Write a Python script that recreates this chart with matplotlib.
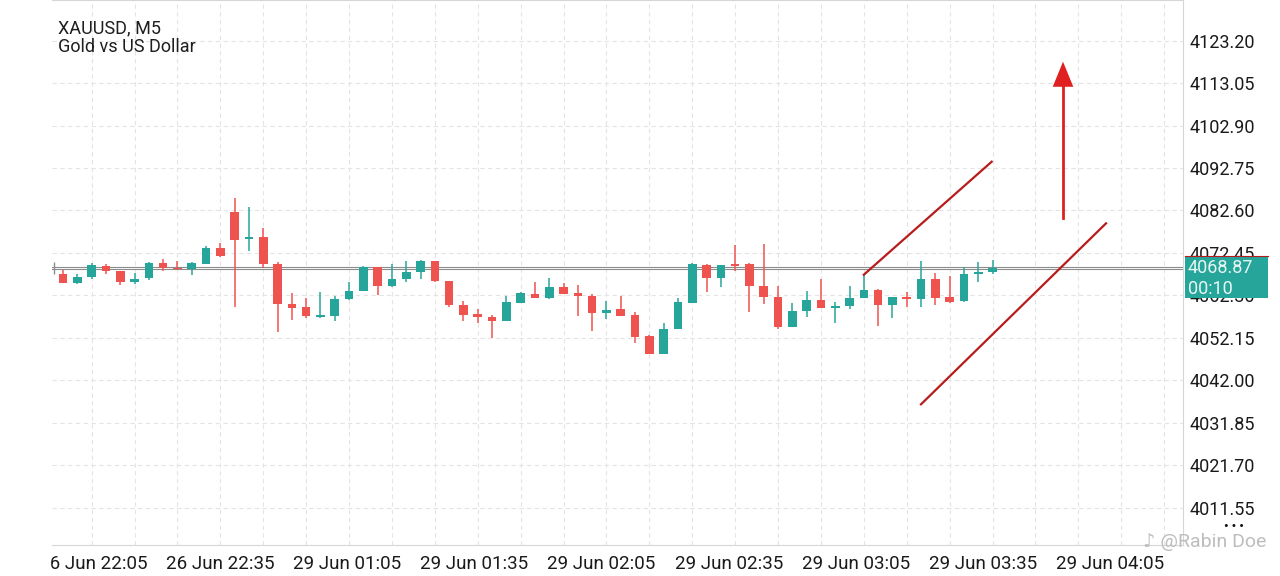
import numpy as np
import matplotlib
matplotlib.use('Agg')
import matplotlib.pyplot as plt
from matplotlib.patches import Rectangle

# XAUUSD M5 candles, oldest first
opens = [4067.34, 4065.26, 4066.69, 4069.40, 4068.06, 4065.57, 4066.38, 4070.11, 4068.92, 4068.53,
         4069.87, 4073.56, 4082.24, 4075.71, 4076.19, 4069.80, 4060.24, 4059.45, 4057.13, 4057.37,
         4061.36, 4063.42, 4069.01, 4064.54, 4066.14, 4067.82, 4070.52, 4065.74, 4060.00, 4057.77,
         4057.13, 4056.17, 4060.55, 4062.70, 4061.60, 4064.37, 4062.80, 4062.15, 4058.16, 4058.97,
         4057.53, 4052.58, 4048.28, 4054.26, 4060.55, 4069.64, 4066.45, 4069.73, 4069.73, 4064.61,
         4061.98, 4054.74, 4058.49, 4061.19, 4059.35, 4059.76, 4061.67, 4063.66, 4059.93, 4061.91,
         4061.43, 4066.14, 4061.98, 4060.88, 4067.48, 4067.82]
highs = [4068.37, 4067.34, 4070.11, 4069.73, 4068.20, 4067.58, 4070.35, 4071.00, 4070.52, 4070.21,
         4074.18, 4074.75, 4085.66, 4083.36, 4078.48, 4070.35, 4062.80, 4061.60, 4063.11, 4062.22,
         4065.57, 4069.32, 4069.16, 4069.73, 4070.52, 4070.76, 4070.59, 4065.81, 4061.03, 4059.11,
         4057.61, 4062.15, 4063.11, 4065.57, 4066.38, 4065.19, 4064.78, 4062.56, 4060.95, 4062.22,
         4058.25, 4052.75, 4055.62, 4061.74, 4069.97, 4069.73, 4069.56, 4074.35, 4070.11, 4074.58,
         4064.54, 4060.40, 4063.35, 4066.14, 4060.79, 4064.54, 4067.24, 4063.75, 4061.98, 4063.18,
         4070.59, 4067.58, 4067.01, 4069.16, 4070.28, 4070.76]
lows = [4065.19, 4064.95, 4066.22, 4067.34, 4064.78, 4064.95, 4065.98, 4068.20, 4068.37, 4067.17,
        4069.80, 4071.55, 4059.52, 4072.91, 4068.92, 4053.61, 4056.41, 4056.96, 4056.82, 4056.17,
        4061.19, 4063.35, 4062.39, 4064.23, 4065.57, 4066.29, 4065.57, 4059.45, 4056.24, 4055.62,
        4052.18, 4056.10, 4060.48, 4061.60, 4061.43, 4062.56, 4057.44, 4053.85, 4056.58, 4057.37,
        4050.84, 4048.21, 4048.21, 4054.19, 4060.48, 4063.18, 4064.23, 4068.20, 4058.40, 4060.24,
        4054.19, 4054.74, 4057.06, 4059.28, 4055.77, 4058.97, 4061.60, 4054.98, 4056.82, 4059.45,
        4059.45, 4059.93, 4060.55, 4060.72, 4065.57, 4067.34]
closes = [4065.33, 4066.62, 4069.56, 4068.06, 4065.50, 4066.29, 4070.11, 4068.85, 4068.53, 4069.97,
          4073.70, 4071.64, 4075.61, 4076.19, 4069.73, 4060.24, 4059.35, 4057.37, 4057.37, 4061.36,
          4063.42, 4069.16, 4064.54, 4066.14, 4067.89, 4070.52, 4065.74, 4059.93, 4057.61, 4057.06,
          4056.17, 4060.64, 4062.94, 4061.67, 4064.37, 4062.63, 4062.08, 4058.01, 4058.87, 4057.44,
          4052.42, 4048.28, 4054.33, 4060.64, 4069.73, 4066.45, 4069.49, 4069.40, 4064.54, 4061.84,
          4054.74, 4058.56, 4061.12, 4059.35, 4059.76, 4061.74, 4063.59, 4059.93, 4061.91, 4061.43,
          4066.14, 4061.74, 4060.79, 4067.48, 4067.89, 4068.87]

price_ticks = [4011.55, 4021.70, 4031.85, 4042.00, 4052.15, 4062.30,
               4072.45, 4082.60, 4092.75, 4102.90, 4113.05, 4123.20]
time_labels = ['26 Jun 22:05', '26 Jun 22:35', '29 Jun 01:05', '29 Jun 01:35', '29 Jun 02:05',
               '29 Jun 02:35', '29 Jun 03:05', '29 Jun 03:35', '29 Jun 04:05']
last_price = 4068.87
countdown = '00:10'

# hand drawn objects: (candle, price)
upper_line = [(56.0, 4067.24), (64.94, 4094.26)]
lower_line = [(60.0, 4036.25), (72.94, 4079.53)]
arrow_x = 69.93
arrow_from = 4080.73
arrow_to = 4118.18

W, H = 1280, 576
UP = '#26a69a'
DOWN = '#ef5350'
GRID = '#e4e4e4'

plt.rcParams['font.family'] = ['Roboto', 'DejaVu Sans']

fig = plt.figure(figsize=(W / 100, H / 100), dpi=100)
ax = fig.add_axes([52 / W, 31 / H, 1131 / W, 545 / H])
ax.set_xlim(-0.77, 78.32)
ax.set_ylim(4002.61, 4132.93)

o = np.array(opens)
h = np.array(highs)
l = np.array(lows)
c = np.array(closes)
x = np.arange(len(o))
col = np.where(c >= o, UP, DOWN)

ax.vlines(x, l, h, colors=col, lw=1.1, zorder=3)
ax.bar(x, np.maximum(np.abs(c - o), 0.4), bottom=np.minimum(o, c), width=0.6,
       color=col, lw=0, zorder=4)

# current price line (double gray)
for d in (-0.25, 0.25):
    ax.axhline(last_price + d, color='#8c8c8c', lw=0.8, zorder=2)
ax.vlines(-0.65, last_price - 1.4, last_price + 1.4, color='#8c8c8c', lw=1)

# trend lines and arrow
ax.plot(*zip(*upper_line), color='#b71c1c', lw=1.6, zorder=5)
ax.plot(*zip(*lower_line), color='#b71c1c', lw=1.6, zorder=5)
ax.plot([arrow_x, arrow_x], [arrow_from, arrow_to - 5.5], color='#e02020', lw=2, zorder=5)
ax.fill([arrow_x - 0.72, arrow_x + 0.72, arrow_x], [arrow_to - 6, arrow_to - 6, arrow_to],
        color='#e02020', lw=0, zorder=5)

# axes, ticks, grid
ax.yaxis.tick_right()
ax.set_yticks(price_ticks)
ax.set_yticklabels([f'{p:.2f}' for p in price_ticks])
ax.tick_params(axis='y', length=0, pad=5, labelsize=13, labelcolor='#1a1a1a')
ax.set_xticks(np.arange(2, 79, 3), minor=True)
ax.set_xticks(2.1 + np.arange(len(time_labels)) * 8.89)
ax.set_xticklabels(time_labels)
ax.tick_params(axis='x', which='both', length=0, pad=7, labelsize=13.5, labelcolor='#1a1a1a')
ax.grid(True, which='minor', axis='x', ls=(0, (4, 3)), color=GRID, lw=0.8, zorder=0)
ax.grid(False, which='major', axis='x')
ax.grid(True, which='major', axis='y', ls=(0, (4, 3)), color=GRID, lw=0.8, zorder=0)
ax.set_axisbelow(True)
ax.spines['left'].set_visible(False)
for s in ('top', 'right', 'bottom'):
    ax.spines[s].set_color('#d6d6d6')
    ax.spines[s].set_linewidth(0.8)

# hide what runs off the left edge
fig.patches.append(Rectangle((0, 0), 50 / W, 31 / H, transform=fig.transFigure,
                             color='white', zorder=10))

# price box on the axis
fig.canvas.draw()
py = ax.transData.transform((0, last_price))[1]
box_top = py + 12
box_bot = py - 30
fig.patches.append(Rectangle((1185 / W, box_bot / H), 83 / W, (box_top - box_bot) / H,
                             transform=fig.transFigure, color=UP, lw=0, zorder=10))
fig.lines.append(plt.Line2D([1185 / W, 1268 / W], [box_top / H, box_top / H],
                            transform=fig.transFigure, color='#b71c1c', lw=0.8, zorder=11))
fig.text(1188 / W, py / H, f'{last_price:.2f}', color='#e8f6f4', fontsize=13,
         va='center', ha='left', zorder=12)
fig.text(1188 / W, (py - 21) / H, countdown, color='#e8f6f4', fontsize=13,
         va='center', ha='left', zorder=12)

# header
fig.text(58 / W, 1 - 28 / H, 'XAUUSD, M5', fontsize=13, color='#1e1e1e', va='center')
fig.text(58 / W, 1 - 47 / H, 'Gold vs US Dollar', fontsize=13, color='#1e1e1e', va='center')

# watermark
fig.text(1234 / W, 1 - 527 / H, '• • •', fontsize=9, color='#111111', ha='center',
         va='center', fontweight='bold', zorder=12)
fig.text(1266 / W, 1 - 542 / H, '♪ @Rabin Doe', fontsize=14, color='#bdbdbd', ha='right',
         va='center', zorder=12)

fig.savefig('out.png', dpi=100)
